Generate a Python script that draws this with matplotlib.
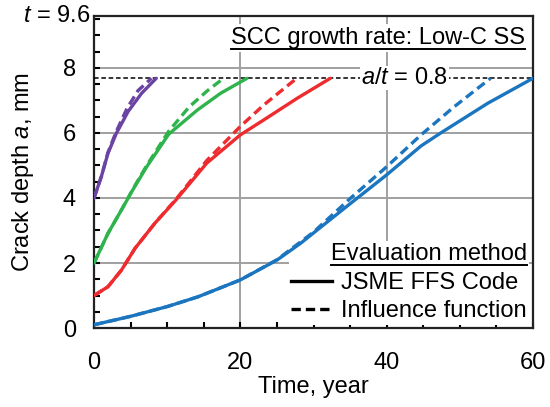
import numpy as np
import matplotlib
matplotlib.use("Agg")
import matplotlib.pyplot as plt
from matplotlib.lines import Line2D

plt.rcParams['font.family'] = ['Liberation Sans', 'DejaVu Sans']
plt.rcParams['mathtext.fontset'] = 'custom'
plt.rcParams['mathtext.rm'] = 'Liberation Sans'
plt.rcParams['mathtext.it'] = 'Liberation Sans:italic'

# wall thickness t = 9.6 mm, limit a/t = 0.8
thickness = 9.6
limit = 0.8

# JSME FFS Code (solid) and influence function (dashed), per initial depth
purple_x = [0, 1.0, 1.9, 3.05, 4.66, 6.5, 8.5]
purple_y = [4.0, 4.66, 5.37, 5.99, 6.66, 7.22, 7.68]
purple_dx = [0, 1.0, 1.9, 3.05, 4.5, 6.0, 7.85]
purple_dy = [4.0, 4.66, 5.4, 6.05, 6.75, 7.3, 7.68]

green_x = [0, 1.9, 3.74, 5.3, 7.2, 10.2, 14.1, 17.3, 20.9]
green_y = [2.0, 2.91, 3.63, 4.25, 4.96, 5.96, 6.7, 7.22, 7.68]
green_dx = [0, 1.9, 3.74, 5.3, 7.2, 10.2, 13.0, 15.5, 17.7]
green_dy = [2.0, 2.91, 3.63, 4.27, 5.0, 6.05, 6.8, 7.3, 7.68]

red_x = [0, 1.9, 3.74, 5.6, 8.3, 11.2, 15.4, 20, 23.2, 27.8, 32.3]
red_y = [1.0, 1.27, 1.78, 2.45, 3.22, 3.94, 5.07, 5.94, 6.4, 7.07, 7.68]
red_dx = [0, 1.9, 3.74, 5.6, 8.3, 11.2, 15.4, 20, 23.2, 27.7]
red_dy = [1.0, 1.27, 1.78, 2.45, 3.22, 3.96, 5.15, 6.2, 6.86, 7.68]

blue_x = [0, 5, 10, 14.2, 20, 25, 28.2, 35.1, 40, 44.7, 47.4, 53.8, 60]
blue_y = [0.1, 0.36, 0.66, 0.96, 1.48, 2.09, 2.6, 3.84, 4.71, 5.6, 6.0, 6.91, 7.68]
blue_dx = [0, 5, 10, 14.2, 20, 25, 30, 35.1, 40, 44.7, 49.2, 54.2]
blue_dy = [0.1, 0.36, 0.66, 0.96, 1.48, 2.1, 2.95, 4.0, 4.96, 5.94, 6.8, 7.68]

series = [
    (purple_x, purple_y, purple_dx, purple_dy, '#6a43a3'),
    (green_x, green_y, green_dx, green_dy, '#2eb34d'),
    (red_x, red_y, red_dx, red_dy, '#ee2b2e'),
    (blue_x, blue_y, blue_dx, blue_dy, '#1b75bf'),
]

FS = 17
DASH = (2.8, 1.5)

fig = plt.figure(figsize=(5.5, 4.07), dpi=100)
ax = fig.add_axes([0.171, 0.194, 0.798, 0.767])

for x, y, dx, dy, c in series:
    ax.plot(x, y, color=c, lw=2.4, solid_capstyle='round', solid_joinstyle='round', zorder=4)
    ax.plot(dx, dy, color=c, lw=2.4, dashes=DASH, zorder=4)

ax.axhline(limit * thickness, color='black', lw=1.1, dashes=(3, 1.8), zorder=3)
ax.text(42.4, limit * thickness, r'$a$/$t$ = 0.8', ha='center', va='center', fontsize=FS,
        bbox=dict(boxstyle='square,pad=0.05', fc='white', ec='none'), zorder=5)

ax.set_xlim(0, 60)
ax.set_ylim(0, thickness)
ax.set_xticks([0, 20, 40, 60])
ax.set_xticks(np.arange(0, 61, 5), minor=True)
ax.set_yticks([0, 2, 4, 6, 8])
ax.set_yticks(np.arange(0, 9.6, 0.5), minor=True)
ax.tick_params(which='both', direction='in', length=4, width=1.5, labelsize=FS)
ax.tick_params(axis='y', pad=13)
ax.tick_params(axis='x', pad=17)
ax.grid(True, which='major', color='#a0a0a0', lw=1.4, zorder=0)
for s in ax.spines.values():
    s.set_linewidth(1.6)
    s.set_color('#222222')
ax.text(-0.008, 1.0, r'$t$ = 9.6', transform=ax.transAxes, ha='right', va='center',
        fontsize=FS)

ax.set_xlabel('Time, year', fontsize=FS)
ax.xaxis.set_label_coords(0.5, -0.155)
ax.set_ylabel(r'Crack depth $a$, mm', fontsize=FS, va='center')
ax.yaxis.set_label_coords(-0.162, 0.5)

title = ax.text(0.982, 0.965, 'SCC growth rate: Low-C SS', transform=ax.transAxes,
                ha='right', va='top', fontsize=FS,
                bbox=dict(boxstyle='square,pad=0.12', fc='white', ec='none'), zorder=5)

handles = [Line2D([], [], color='black', lw=2.4),
           Line2D([], [], color='black', lw=2.4, dashes=DASH)]
leg = ax.legend(handles, ['JSME FFS Code', 'Influence function'], loc='lower right',
                title='Evaluation method', fontsize=FS, title_fontsize=FS,
                frameon=True, fancybox=False, framealpha=1, edgecolor='none',
                handlelength=1.7, handletextpad=0.42, labelspacing=0.27,
                borderpad=0.1, borderaxespad=0.15)
leg.get_frame().set_facecolor('white')
leg._legend_box.align = 'right'
# keep the legend box under the curves so the blue line stays visible
leg.set_zorder(3)

# underline the two headings
fig.canvas.draw()
r = fig.canvas.get_renderer()
inv = fig.transFigure.inverted()
for t in [title, leg.get_title()]:
    bb = t.get_window_extent(r)
    (x0, y0), (x1, y1) = inv.transform([[bb.x0, bb.y0], [bb.x1, bb.y1]])
    fig.add_artist(Line2D([x0, x1], [y0, y0], color='black', lw=1.4,
                          transform=fig.transFigure, zorder=10))

fig.savefig('out.png', dpi=100)
